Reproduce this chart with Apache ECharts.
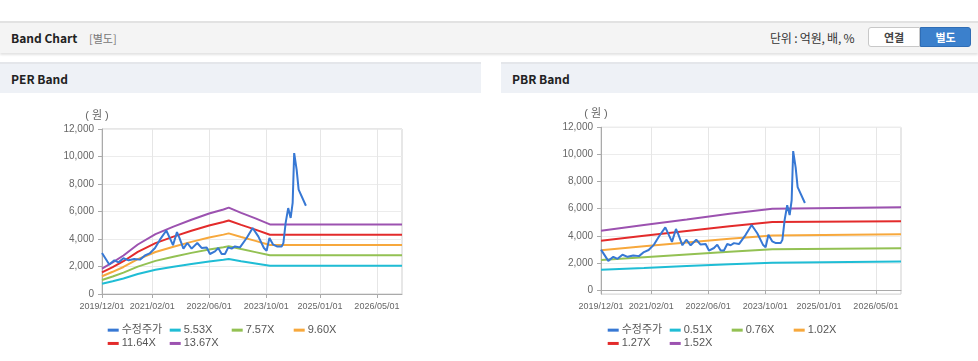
<!DOCTYPE html>
<html><head><meta charset="utf-8">
<script src="https://cdn.jsdelivr.net/npm/echarts@6/dist/echarts.min.js"></script>
<style>
html,body{margin:0;padding:0;background:#fff;width:978px;height:361px;overflow:hidden;font-family:"Noto Sans CJK KR","Liberation Sans",sans-serif;}
#bar{position:absolute;left:0;top:21px;width:978px;height:30px;background:#f4f4f4;border-top:2px solid #e2e2e2;box-shadow:0 2px 2px #e4e4e4;}
#bar .t{position:absolute;left:11px;top:6px;font-size:12px;font-weight:bold;color:#222;}
#bar .s{position:absolute;left:89px;top:7px;font-size:11px;color:#777;}
#bar .u{position:absolute;left:770px;top:6px;font-size:12px;color:#333;letter-spacing:-0.2px;}
#b1{position:absolute;left:868px;top:4px;width:52px;height:20px;border:1px solid #c8c8c8;border-radius:3px 0 0 3px;background:#fff;font-size:11px;font-weight:bold;color:#444;text-align:center;line-height:18px;box-sizing:border-box;}
#b2{position:absolute;left:920px;top:4px;width:51px;height:20px;border:1px solid #2f6db5;border-radius:0 3px 3px 0;background:#3b80cc;font-size:11px;font-weight:bold;color:#fff;text-align:center;line-height:18px;box-sizing:border-box;}
.ph{position:absolute;top:62px;height:29px;background:#eef1f6;border-top:2px solid #e4e6ea;}
.ph span{position:absolute;left:11px;top:6px;font-size:12px;font-weight:bold;color:#222;}
#chart{position:absolute;left:0;top:92px;width:978px;height:269px;}
</style></head>
<body>
<div id="bar"><span class="t">Band Chart</span><span class="s">[별도]</span><span class="u">단위 : 억원, 배, %</span><div id="b1">연결</div><div id="b2">별도</div></div>
<div class="ph" style="left:0;width:481px;"><span>PER Band</span></div>
<div class="ph" style="left:501px;width:477px;"><span>PBR Band</span></div>
<div id="chart"></div>
<script>
// ---- data ----
const xTickLabels = ['2019/12/01','2021/02/01','2022/06/01','2023/10/01','2025/01/01','2026/05/01'];
const yTickValues = [0,2000,4000,6000,8000,10000,12000];
const xRange = ['2019-12-01','2026-12-01'];
const yAxisName = '( 원 )';

const priceDates = ['2019-12-01','2020-02-01','2020-03-15','2020-04-20','2020-06-01','2020-07-15','2020-09-01','2020-10-20','2020-12-01','2021-01-10','2021-02-25','2021-04-08','2021-06-01','2021-07-10','2021-07-28','2021-08-31','2021-09-20','2021-10-25','2021-11-27','2022-01-03','2022-02-20','2022-03-29','2022-05-11','2022-06-08','2022-07-21','2022-08-18','2022-09-16','2022-10-14','2022-11-11','2022-12-10','2023-01-07','2023-02-19','2023-04-17','2023-06-07','2023-07-25','2023-09-11','2023-10-04','2023-10-28','2023-11-29','2023-12-31','2024-02-09','2024-02-24','2024-03-14','2024-04-05','2024-04-26','2024-05-13','2024-05-26','2024-06-10','2024-06-16','2024-07-03','2024-09-03'];
const priceValues = [2980,2150,2450,2300,2600,2450,2550,2500,2800,2950,3350,3950,4620,3900,3550,4500,4100,3300,3710,3300,3710,3350,3390,2910,3100,3345,2910,2910,3390,3300,3460,3390,4070,4800,4190,3345,3150,4070,3590,3460,3460,3700,5160,6250,5530,6620,10250,10130,9040,7590,6420];

const perDates = ['2019-12-01','2020-03-01','2020-06-01','2020-10-01','2021-03-01','2021-08-01','2022-01-01','2022-06-01','2022-10-01','2022-11-15','2023-03-01','2023-07-01','2023-11-01','2026-12-01'];
const per553 = [744,930,1133,1456,1760,1982,2184,2366,2488,2540,2387,2225,2060,2060];
const per757 = [1019,1274,1551,1994,2409,2714,2991,3240,3406,3478,3267,3046,2820,2820];
const per960 = [1292,1615,1966,2528,3055,3441,3792,4108,4319,4410,4144,3863,3570,3570];
const per1164 = [1567,1958,2384,3065,3704,4172,4598,4981,5237,5347,5024,4683,4310,4310];
const per1367 = [1840,2300,2800,3600,4350,4900,5400,5850,6150,6280,5900,5500,5060,5060];

const pbrDates = ['2019-12-01','2020-12-01','2021-12-01','2022-12-01','2023-11-30','2023-12-01','2026-12-01'];
const pbr051 = [1500,1630,1770,1900,2020,2100,2100];
const pbr076 = [2220,2420,2620,2820,3000,3080,3080];
const pbr102 = [2930,3220,3500,3780,4030,4110,4110];
const pbr127 = [3640,4000,4350,4700,5010,5080,5080];
const pbr152 = [4375,4790,5200,5620,6000,6100,6100];

const perNames = ['수정주가','5.53X','7.57X','9.60X','11.64X','13.67X'];
const pbrNames = ['수정주가','0.51X','0.76X','1.02X','1.27X','1.52X'];
const colors = ['#3778d4','#1fbdd5','#93c153','#f7a83c','#e32b2b','#9c52b0'];

// ---- build ----
function ts(d){ return Date.parse(d + 'T00:00:00Z'); }
function pts(dates, vals){ return dates.map((d,i)=>[ts(d), vals[i]]); }
const xTicks = xTickLabels.map(s => ts(s.replace(/\//g,'-')));
const FONT = '"Liberation Sans", Arial, "Noto Sans CJK KR", sans-serif';
function pad(n){ return (n<10?'0':'')+n; }
function fmtDate(v){ const d=new Date(v); return d.getUTCFullYear()+'/'+pad(d.getUTCMonth()+1)+'/'+pad(d.getUTCDate()); }

const chart = echarts.init(document.getElementById('chart'), null, {renderer:'canvas'});

function xAxis(gi){
  return {type:'value', gridIndex:gi, min:ts(xRange[0]), max:ts(xRange[1]),
    axisLine:{lineStyle:{color:'#aaa'}},
    axisTick:{show:true, length:4, lineStyle:{color:'#aaa'}, customValues:xTicks},
    axisLabel:{customValues:xTicks, formatter:fmtDate, color:'#666', fontSize:9, fontFamily:FONT, margin:8, showMinLabel:true, showMaxLabel:true},
    splitLine:{show:true, lineStyle:{color:'#e6e6e6'}}};
}
function yAxis(gi, min){
  return {type:'value', gridIndex:gi, min:min, max:12000,
    axisLine:{show:true, lineStyle:{color:'#aaa'}},
    axisTick:{show:true, length:4, lineStyle:{color:'#aaa'}, customValues:yTickValues},
    axisLabel:{customValues:yTickValues, color:'#666', fontSize:10, fontFamily:FONT, margin:8,
      formatter:v=>v.toLocaleString('en-US')},
    splitLine:{show:true, lineStyle:{color:'#ececec'}}};
}
function line(name, data, color, xi, yi, z){
  return {type:'line', name:name, data:data, xAxisIndex:xi, yAxisIndex:yi, showSymbol:false, symbol:'none',
    lineStyle:{color:color, width:2}, itemStyle:{color:color}, color:color, z:z||2, animation:false};
}
function legend(names, left){
  return {data:names.map(n=>({name:n, icon:'rect'})), left:left, top:231.5, padding:0, width:258, itemWidth:11, itemHeight:3, itemGap:0,
    textStyle:{color:'#555', fontSize:11, fontFamily:FONT, width:48, lineHeight:13.3, padding:[0,0,0,-2]}, selectedMode:false};
}

const perBands = [per553, per757, per960, per1164, per1367];
const pbrBands = [pbr051, pbr076, pbr102, pbr127, pbr152];
const series = [];
series.push(line(perNames[0], pts(priceDates, priceValues), colors[0], 0, 0, 5));
perBands.forEach((b,i)=>series.push(line(perNames[i+1], pts(perDates,b), colors[i+1], 0, 0)));
series.push(line(pbrNames[0], pts(priceDates, priceValues), colors[0], 1, 1, 5));
pbrBands.forEach((b,i)=>series.push(line(pbrNames[i+1], pts(pbrDates,b), colors[i+1], 1, 1)));

chart.setOption({
  animation:false,
  color:colors,
  grid:[
    {left:102, top:37, width:300, height:165, show:true, borderColor:'#cfcfcf', borderWidth:1, backgroundColor:'transparent'},
    {left:601, top:35.3, width:300, height:166.8, show:true, borderColor:'#cfcfcf', borderWidth:1, backgroundColor:'transparent'}
  ],
  xAxis:[xAxis(0), xAxis(1)],
  yAxis:[yAxis(0, 0), yAxis(1, -300)],
  legend:[legend(perNames, 107.7), legend(pbrNames, 607.7)],
  graphic:[
    {type:'text', x:97, y:24, style:{text:yAxisName, fill:'#666', font:'11px '+FONT, textAlign:'center', textVerticalAlign:'middle'}},
    {type:'text', x:596, y:22, style:{text:yAxisName, fill:'#666', font:'11px '+FONT, textAlign:'center', textVerticalAlign:'middle'}}
  ],
  series:series
});
</script>
</body></html>
